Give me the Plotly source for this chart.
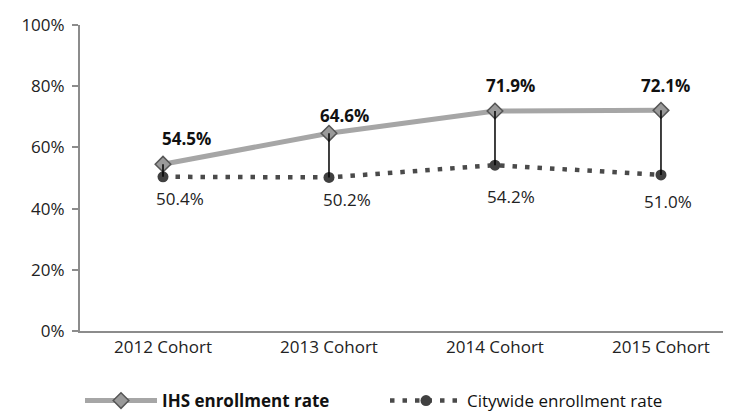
import plotly.graph_objects as go

categories = ["2012 Cohort", "2013 Cohort", "2014 Cohort", "2015 Cohort"]
ihs_rate = [54.5, 64.6, 71.9, 72.1]
citywide_rate = [50.4, 50.2, 54.2, 51.0]
y_ticks = [0, 20, 40, 60, 80, 100]
y_tick_labels = ["0%", "20%", "40%", "60%", "80%", "100%"]

FONT = "Open Sans"
FS = 17

# label offsets (px) - style only
ihs_xshift = [23, 16, 16, 5]
ihs_yshift = [26, 18, 25, 25]
city_xshift = [17, 18, 16, 7]
city_yshift = [-22, -22, -31, -27]

fig = go.Figure()

fig.add_trace(go.Scatter(
    x=categories, y=ihs_rate, name="<b>IHS enrollment rate</b>",
    mode="lines+markers",
    line=dict(color="#a6a6a6", width=5),
    marker=dict(symbol="diamond", size=12, color="#9a9a9a",
                line=dict(color="#555555", width=1.5)),
))
fig.add_trace(go.Scatter(
    x=categories, y=citywide_rate, name="Citywide enrollment rate",
    mode="lines+markers",
    line=dict(color="#4a4a4a", width=4.5, dash="4.5px,8px"),
    marker=dict(symbol="circle", size=11, color="#404040"),
))

# drop lines
dx, dy = [], []
for c, a, b in zip(categories, ihs_rate, citywide_rate):
    dx += [c, c, None]
    dy += [a, b, None]
fig.add_trace(go.Scatter(x=dx, y=dy, mode="lines", showlegend=False,
                         line=dict(color="#000000", width=1.5), hoverinfo="skip"))

for i, (c, v) in enumerate(zip(categories, ihs_rate)):
    fig.add_annotation(x=c, y=v, text=f"<b>{v:.1f}%</b>", showarrow=False,
                       xshift=ihs_xshift[i], yshift=ihs_yshift[i],
                       font=dict(family=FONT, size=FS, color="#111111"))
for i, (c, v) in enumerate(zip(categories, citywide_rate)):
    fig.add_annotation(x=c, y=v, text=f"{v:.1f}%", showarrow=False,
                       xshift=city_xshift[i], yshift=city_yshift[i],
                       font=dict(family=FONT, size=FS, color="#222222"))

fig.update_layout(
    width=731, height=411,
    margin=dict(l=72, r=0, t=17, b=77),
    paper_bgcolor="white", plot_bgcolor="white",
    font=dict(family=FONT, size=FS, color="#222222"),
    showlegend=True,
    legend=dict(orientation="h", x=0.0, xanchor="left", y=-0.17, yanchor="top",
                font=dict(family=FONT, size=FS, color="#111111"),
                itemwidth=72, entrywidth=218, entrywidthmode="pixels",
                traceorder="normal"),
    xaxis=dict(range=[-0.5, 3.47], showline=True, linecolor="#8c8c8c", linewidth=2,
               showgrid=False, zeroline=False, ticks="",
               tickfont=dict(family=FONT, size=FS, color="#222222")),
    yaxis=dict(range=[0, 100], tickvals=y_ticks, ticktext=y_tick_labels,
               showline=True, linecolor="#8c8c8c", linewidth=2,
               ticks="outside", ticklen=6, tickcolor="#8c8c8c", tickwidth=2,
               showgrid=False, zeroline=False, ticklabelstandoff=4,
               tickfont=dict(family=FONT, size=FS, color="#222222")),
)

fig.write_html("out.html")
